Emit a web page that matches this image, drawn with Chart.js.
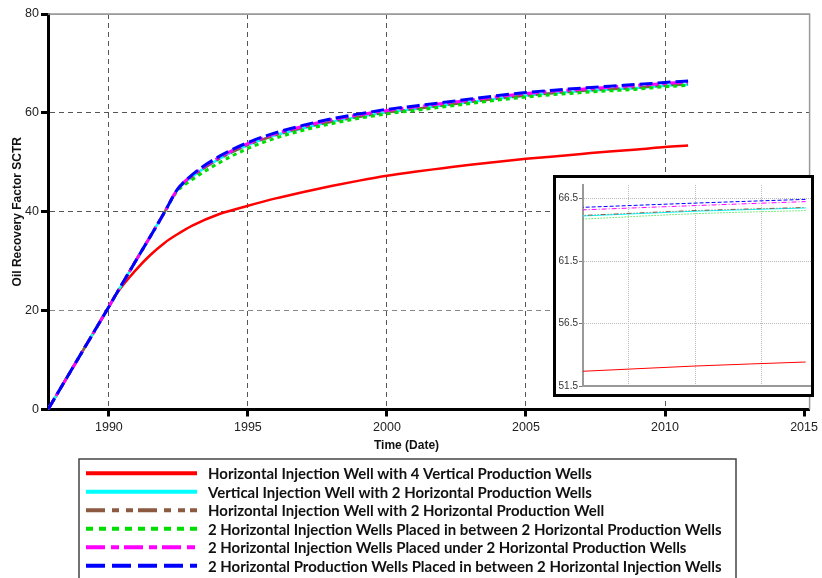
<!DOCTYPE html>
<html>
<head>
<meta charset="utf-8">
<title>Oil Recovery Factor SCTR</title>
<script src="https://cdn.jsdelivr.net/npm/chart.js@4.4.1/dist/chart.umd.min.js"></script>
<style>
  html, body { margin: 0; padding: 0; background: #fff; }
  #wrap { position: relative; width: 822px; height: 578px; overflow: hidden; }
  #main { position: absolute; left: 0; top: 0; }
  #insetBox { position: absolute; left: 553px; top: 175px; width: 255px; height: 216px;
              border: 3px solid #000; background: #fff; }
  #inset { display: block; }
</style>
</head>
<body>
<div id="wrap">
  <canvas id="main" width="822" height="578"></canvas>
  <div id="insetBox"><canvas id="inset" width="255" height="216"></canvas></div>
</div>
<script>
// Decimal years of the simulation report steps
const TIME = [1987.81, 1989, 1990, 1990.3, 1991, 1991.5, 1992, 1992.45, 1993, 1994, 1995, 1996, 1997,
  1998, 1999, 2000, 2001, 2002, 2003, 2004, 2005, 2006, 2007, 2008, 2009, 2010, 2010.83];

// Oil recovery factor (%) per well configuration
const HINJ_4VPROD = [0, 11.3, 20.8, 23.6, 28.4, 31.3, 33.7, 35.4, 37.2, 39.6, 41.2, 42.7, 44.0,
  45.2, 46.3, 47.3, 48.1, 48.8, 49.5, 50.1, 50.7, 51.2, 51.7, 52.2, 52.6, 53.1, 53.42];
const VINJ_2HPROD = [0, 11.3, 20.8, 23.7, 30.4, 35.1, 39.9, 44.3, 47.1, 50.8, 53.5, 55.5, 56.9,
  58.2, 59.2, 60.1, 60.8, 61.5, 62.2, 62.9, 63.5, 64.0, 64.4, 64.75, 65.05, 65.5, 65.76];
const HINJ_2HPROD = [0, 11.3, 20.8, 23.7, 30.4, 35.1, 39.9, 44.3, 47.1, 50.8, 53.5, 55.5, 57.0,
  58.2, 59.2, 60.1, 60.8, 61.5, 62.2, 62.9, 63.5, 64.0, 64.45, 64.8, 65.1, 65.55, 65.8];
const HINJ2_BETWEEN = [0, 11.3, 20.8, 23.7, 30.4, 35.1, 39.9, 44.1, 46.5, 50.0, 52.8, 54.9, 56.5,
  57.8, 58.9, 59.8, 60.5, 61.2, 61.9, 62.6, 63.2, 63.7, 64.1, 64.45, 64.8, 65.3, 65.55];
const HINJ2_UNDER = [0, 11.3, 20.8, 23.7, 30.4, 35.1, 39.9, 44.4, 47.4, 51.1, 53.8, 55.8, 57.3,
  58.6, 59.6, 60.5, 61.2, 61.9, 62.6, 63.3, 63.9, 64.4, 64.8, 65.2, 65.55, 65.95, 66.27];
const HPROD2_BETWEEN = [0, 11.3, 20.8, 23.7, 30.4, 35.1, 39.9, 44.4, 47.5, 51.3, 54.0, 56.0, 57.5,
  58.8, 59.8, 60.7, 61.4, 62.1, 62.8, 63.5, 64.1, 64.6, 65.0, 65.4, 65.75, 66.15, 66.45];

const SERIES_LABELS = [
  'Horizontal Injection Well with 4 Vertical Production Wells',
  'Vertical Injection Well with 2 Horizontal Production Wells',
  'Horizontal Injection Well with 2 Horizontal Production Well',
  '2 Horizontal Injection Wells Placed in between 2 Horizontal Production Wells',
  '2 Horizontal Injection Wells Placed under 2 Horizontal Production Wells',
  '2 Horizontal Production Wells Placed in between 2 Horizontal Injection Wells',
];
const SERIES_VALUES = [HINJ_4VPROD, VINJ_2HPROD, HINJ_2HPROD, HINJ2_BETWEEN, HINJ2_UNDER, HPROD2_BETWEEN];

const X_TICKS = [1990, 1995, 2000, 2005, 2010, 2015];
const Y_TICKS = [0, 20, 40, 60, 80];
const INSET_X_TICKS = [2009.5, 2010, 2010.5];
const INSET_Y_TICKS = [51.5, 56.5, 61.5, 66.5];

// Line styles, same order as the labels
const STYLES = [
  { color: '#ff0000', width: 2.5, dash: [],                 legendDash: [],                  insetDash: [],              order: 5 },
  { color: '#00ffff', width: 2.5, dash: [],                 legendDash: [],                  insetDash: [],              order: 4 },
  { color: '#8c5a40', width: 2.5, dash: [12, 4, 4, 4, 4, 4], legendDash: [19, 7, 7, 7, 7, 5], insetDash: [5, 2, 1, 2, 1, 2], order: 3 },
  { color: '#00dd00', width: 3,   dash: [4, 4],             legendDash: [7, 6],              insetDash: [1, 2],          order: 2 },
  { color: '#ff00ff', width: 3,   dash: [12, 4, 4, 4],      legendDash: [19, 6, 8, 5],       insetDash: [5, 2, 1, 2],    order: 1 },
  { color: '#0000ff', width: 3,   dash: [13, 5],            legendDash: [19, 7],             insetDash: [4, 2],          order: 0 },
];

const AXIS_FONT = 'Liberation Sans, Arial, sans-serif';

function toPoints(values) {
  return TIME.map((t, i) => ({ x: t, y: values[i] }));
}

function buildDatasets(inset) {
  return SERIES_VALUES.map((vals, i) => {
    const st = STYLES[i];
    return {
      label: SERIES_LABELS[i],
      data: toPoints(vals),
      borderColor: st.color,
      backgroundColor: st.color,
      borderWidth: inset ? 1 : st.width,
      borderDash: inset ? st.insetDash : st.dash,
      pointRadius: 0,
      fill: false,
      cubicInterpolationMode: 'monotone',
      order: st.order,
    };
  });
}

// Top / right frame, legend box and x title for the main chart
const decorPlugin = {
  id: 'decor',
  beforeDatasetsDraw(chart) {
    const { ctx, chartArea: a } = chart;
    ctx.save();
    ctx.strokeStyle = '#999';
    ctx.lineWidth = 1.5;
    ctx.beginPath();
    ctx.moveTo(a.left, a.top);
    ctx.lineTo(a.right, a.top);
    ctx.lineTo(a.right, a.bottom);
    ctx.stroke();
    ctx.restore();
  },
  afterDraw(chart) {
    const ctx = chart.ctx;
    ctx.save();

    // x axis title, centred on the full axis span
    ctx.font = 'bold 12px ' + AXIS_FONT;
    ctx.fillStyle = '#111';
    ctx.textAlign = 'center';
    ctx.textBaseline = 'middle';
    ctx.fillText('Time (Date)', 406.5, 446);

    // legend box
    ctx.strokeStyle = '#444';
    ctx.lineWidth = 1.5;
    ctx.strokeRect(79, 459, 657, 140);

    let size = 14;
    ctx.font = `bold ${size}px Lato`;
    const longest = Math.max(...SERIES_LABELS.map(l => ctx.measureText(l).width));
    size = size * 514 / longest;
    ctx.font = `bold ${size.toFixed(2)}px Lato`;
    ctx.textAlign = 'left';
    ctx.fillStyle = '#111';

    SERIES_LABELS.forEach((label, i) => {
      const y = 473.3 + i * 18.5;
      const st = STYLES[i];
      ctx.beginPath();
      ctx.setLineDash(st.legendDash);
      ctx.strokeStyle = st.color;
      ctx.lineWidth = 4;
      ctx.lineCap = 'butt';
      ctx.moveTo(86, y);
      ctx.lineTo(197, y);
      ctx.stroke();
      ctx.setLineDash([]);
      ctx.fillText(label, 208, y + 1);
    });
    ctx.restore();
  },
};

new Chart(document.getElementById('main'), {
  type: 'line',
  data: { datasets: buildDatasets(false) },
  plugins: [decorPlugin],
  options: {
    responsive: false,
    animation: false,
    layout: { padding: { left: 0, top: 14, right: 9, bottom: 124.5 } },
    plugins: { legend: { display: false }, tooltip: { enabled: false } },
    scales: {
      x: {
        type: 'linear',
        min: 1987.81,
        max: 2015.2,
        afterBuildTicks: s => { s.ticks = X_TICKS.map(v => ({ value: v })); },
        afterFit: s => { s.height = 44; },
        ticks: {
          color: '#222',
          font: { family: AXIS_FONT, size: 12.5 },
          padding: 4,
          maxRotation: 0,
          autoSkip: false,
          callback: v => String(v),
        },
        grid: {
          color: ctx => (ctx.tick && ctx.tick.value === 2015 ? 'rgba(0,0,0,0)' : '#555'),
          lineWidth: 1,
          tickColor: '#000',
          tickWidth: 3,
          tickLength: 7,
          tickBorderDash: [],
        },
        border: { color: '#000', width: 3, dash: [5, 4] },
      },
      y: {
        min: 0,
        max: 80,
        afterBuildTicks: s => { s.ticks = Y_TICKS.map(v => ({ value: v })); },
        afterFit: s => { s.width = 48; },
        ticks: {
          color: '#222',
          font: { family: AXIS_FONT, size: 12.5 },
          padding: 2,
          callback: v => String(v),
        },
        grid: {
          color: ctx => {
            const v = ctx.tick && ctx.tick.value;
            if (v === 80) return '#999';
            return v === 20 ? '#888' : '#555';
          },
          lineWidth: 1,
          tickColor: '#000',
          tickWidth: 3,
          tickLength: 7,
          tickBorderDash: [],
        },
        border: {
          color: '#000',
          width: 3,
          dash: ctx => (ctx.tick && ctx.tick.value === 80 ? [] : [5, 4]),
        },
        title: {
          display: true,
          text: 'Oil Recovery Factor SCTR',
          color: '#111',
          font: { family: AXIS_FONT, size: 12, weight: 'bold' },
          padding: { top: 10, bottom: 0 },
        },
      },
    },
  },
});

// Zoomed view of the end of the run
new Chart(document.getElementById('inset'), {
  type: 'line',
  data: { datasets: buildDatasets(true) },
  options: {
    responsive: false,
    animation: false,
    layout: { padding: { left: 0, top: 1, right: 0, bottom: 0 } },
    plugins: { legend: { display: false }, tooltip: { enabled: false } },
    scales: {
      x: {
        type: 'linear',
        min: 2009.16,
        max: 2010.87,
        afterBuildTicks: s => { s.ticks = INSET_X_TICKS.map(v => ({ value: v })); },
        afterFit: s => { s.height = 8; },
        ticks: { display: false },
        grid: { color: '#bbb', lineWidth: 1, drawTicks: false },
        border: { color: '#999', width: 2, dash: [1, 1] },
      },
      y: {
        min: 51.5,
        max: 67.6,
        afterBuildTicks: s => { s.ticks = INSET_Y_TICKS.map(v => ({ value: v })); },
        afterFit: s => { s.width = 27; },
        ticks: {
          color: '#333',
          font: { family: AXIS_FONT, size: 10 },
          padding: 1,
          callback: v => v.toFixed(1),
        },
        grid: { color: '#bbb', lineWidth: 1, tickLength: 4, tickColor: '#777', tickWidth: 1, tickBorderDash: [] },
        border: { color: '#999', width: 2, dash: [1, 1] },
      },
    },
  },
});
</script>
</body>
</html>
